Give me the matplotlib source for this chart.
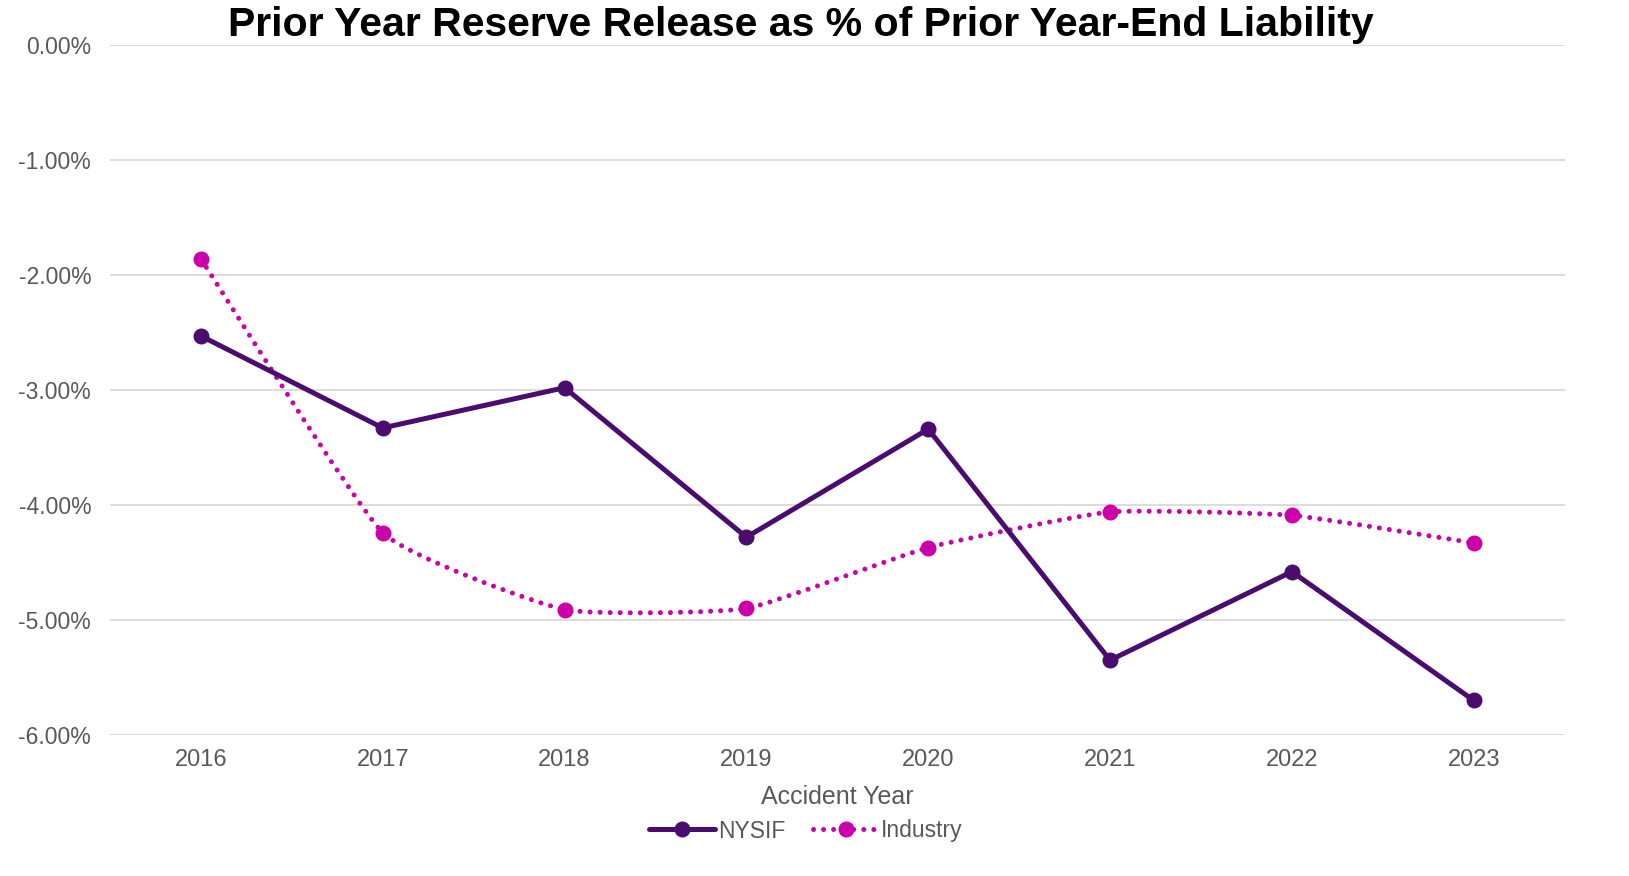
import numpy as np
import matplotlib.pyplot as plt
from matplotlib.path import Path
from matplotlib.patches import PathPatch
from matplotlib.lines import Line2D
from matplotlib.ticker import FuncFormatter

plt.rcParams['font.family'] = ['Liberation Sans', 'DejaVu Sans']

years = [2016, 2017, 2018, 2019, 2020, 2021, 2022, 2023]
nysif = [-2.53, -3.33, -2.98, -4.28, -3.34, -5.35, -4.58, -5.70]
industry = [-1.86, -4.24, -4.91, -4.90, -4.37, -4.06, -4.09, -4.33]

NYSIF_C = '#4B0C6F'
IND_C = '#CC00AA'
GREY = '#595959'


def smooth_path(xs, ys, k=1 / 14):
    # lightly smoothed line, cubic bezier segments through the points
    pts = np.column_stack([xs, ys]).astype(float)
    verts = [pts[0]]
    codes = [Path.MOVETO]
    n = len(pts)
    for i in range(n - 1):
        p0 = pts[i - 1] if i > 0 else pts[i]
        p1 = pts[i]
        p2 = pts[i + 1]
        p3 = pts[i + 2] if i + 2 < n else pts[i + 1]
        c1 = p1 + (p2 - p0) * k
        c2 = p2 - (p3 - p1) * k
        verts += [c1, c2, p2]
        codes += [Path.CURVE4] * 3
    return Path(verts, codes)


fig = plt.figure(figsize=(16.29, 8.76), dpi=100)
ax = fig.add_axes([0.0675, 0.161, 0.893, 0.7876])

dots = (0, (0.01, 2.0))

ax.plot(years, nysif, color=NYSIF_C, lw=3.6, marker='o', ms=10.5,
        solid_capstyle='round', zorder=4)

patch = PathPatch(smooth_path(years, industry), facecolor='none',
                  edgecolor=IND_C, lw=3.6, linestyle=dots, capstyle='round',
                  zorder=3)
ax.add_patch(patch)
ax.plot(years, industry, linestyle='none', marker='o', ms=10.5,
        color=IND_C, zorder=5)

ax.set_xlim(2015.5, 2023.5)
ax.set_ylim(-6.0, 0.0)
ax.set_yticks(np.arange(-6, 0.01, 1))
ax.yaxis.set_major_formatter(FuncFormatter(lambda v, p: f'{v:.2f}%'))
ax.set_xticks(years)
ax.grid(axis='y', color='#D9D9D9', lw=1.3)
ax.set_axisbelow(True)
for s in ax.spines.values():
    s.set_visible(False)
ax.tick_params(length=0, labelsize=17, colors=GREY, pad=10)
ax.tick_params(axis='y', labelsize=16.5, pad=13.5)
ax.set_xlabel('Accident Year', fontsize=18, color=GREY, labelpad=10)

fig.text(801 / 1629, 0.971, 'Prior Year Reserve Release as % of Prior Year-End Liability',
         ha='center', va='center', fontsize=29.5, fontweight='bold', color='black')

handles = [
    Line2D([], [], color=NYSIF_C, lw=3.6, marker='o', ms=10.5, solid_capstyle='round'),
    Line2D([], [], color=IND_C, lw=3.6, linestyle=dots, dash_capstyle='round',
           marker='o', ms=10.5),
]
fig.legend(handles, ['NYSIF', 'Industry'], loc='center', bbox_to_anchor=(806 / 1629, 1 - 831 / 876),
           ncol=2, frameon=False, fontsize=16.5, labelcolor=GREY,
           handlelength=2.9, handletextpad=0.1, columnspacing=1.2)

fig.savefig('out.png', dpi=100)
